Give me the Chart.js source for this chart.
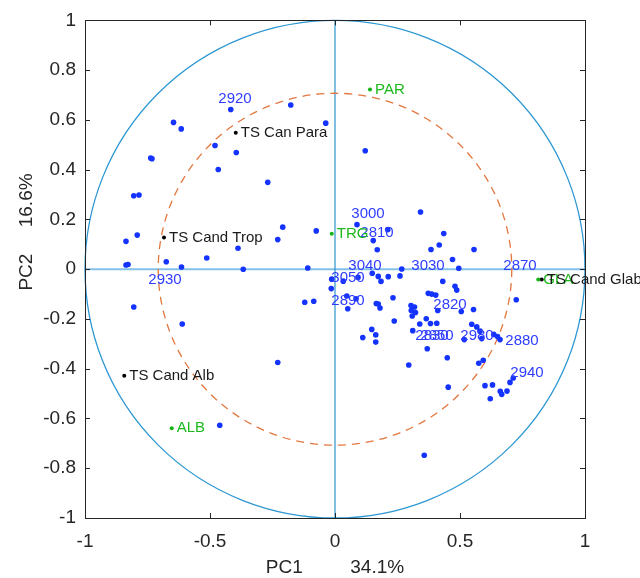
<!DOCTYPE html>
<html>
<head>
<meta charset="utf-8">
<script src="https://cdn.jsdelivr.net/npm/chart.js@4/dist/chart.umd.min.js"></script>
<style>
  html,body{margin:0;padding:0;background:#fff;}
  #wrap{width:640px;height:578px;}
</style>
</head>
<body>
<div id="wrap"><canvas id="pca" width="640" height="578"></canvas></div>
<script>
// ── PCA biplot: PC1 vs PC2 loadings ──

// wavenumber loadings (blue)
const loadX = [-0.417,-0.177,-0.646,-0.615,-0.480,-0.395,-0.037,-0.737,-0.732,-0.467,-0.269,-0.805,-0.784,-0.209,-0.075,
  -0.791,-0.836,-0.229,-0.388,-0.513,-0.675,-0.836,-0.828,-0.614,-0.367,-0.109,-0.805,-0.611,-0.121,-0.085,-0.229,-0.461,
  -0.013,-0.015,0.121,0.342,0.088,0.211,0.435,0.153,0.169,0.384,0.417,0.556,0.470,0.495,0.267,0.260,0.213,0.173,0.184,
  0.149,0.092,0.033,0.431,0.480,0.487,0.725,0.047,0.084,0.051,0.165,0.173,0.180,0.232,0.373,0.387,0.403,0.304,0.318,
  0.305,0.322,0.309,0.411,0.505,0.554,0.237,0.365,0.339,0.382,0.407,0.147,0.163,0.111,0.163,0.311,0.547,0.567,0.580,
  0.517,0.587,0.635,0.650,0.660,0.369,0.449,0.575,0.593,0.295,0.700,0.713,0.600,0.630,0.661,0.667,0.688,0.621,0.453,0.357];
const loadY = [0.642,0.660,0.590,0.564,0.497,0.469,0.587,0.447,0.444,0.401,0.349,0.295,0.298,0.169,0.154,
  0.137,0.112,0.119,0.084,0.045,0.030,0.017,0.019,0.009,0.000,0.005,-0.152,-0.220,-0.133,-0.129,-0.375,-0.627,
  -0.040,-0.078,0.476,0.230,0.179,0.159,0.143,0.115,0.078,0.079,0.097,0.079,0.039,0.004,0.001,-0.027,-0.030,-0.029,-0.049,
  -0.016,-0.033,-0.048,-0.049,-0.069,-0.084,-0.123,-0.108,-0.119,-0.159,-0.138,-0.140,-0.156,-0.115,-0.097,-0.100,-0.104,-0.146,-0.152,
  -0.166,-0.174,-0.188,-0.166,-0.170,-0.162,-0.208,-0.199,-0.220,-0.218,-0.217,-0.242,-0.264,-0.275,-0.293,-0.247,-0.221,-0.232,-0.249,
  -0.283,-0.279,-0.262,-0.271,-0.283,-0.320,-0.356,-0.378,-0.366,-0.385,-0.455,-0.437,-0.468,-0.465,-0.491,-0.503,-0.490,-0.521,-0.474,-0.748];

// wavenumber labels
const waveNames = ['2920','3000','2810','3040','3030','2870','3050','2930','2890','2820','2850','2830','2980','2880','2940'];
const waveX     = [-0.400,0.132,0.168,0.120,0.372,0.740,0.052,-0.680,0.052,0.460,0.408,0.388,0.568,0.748,0.768];
const waveY     = [0.683,0.224,0.148,0.012,0.012,0.012,-0.036,-0.044,-0.128,-0.144,-0.267,-0.267,-0.267,-0.287,-0.415];

// sample groups (green)
const groupNames = ['PAR','TRG','GLA','ALB'];
const groupX     = [0.140,-0.013,0.813,-0.653];
const groupY     = [0.722,0.142,-0.041,-0.639];

// reference standards (black)
const stdNames = ['TS Can Para','TS Cand Trop','TS Cand Alb','TS Cand Glab'];
const stdX     = [-0.397,-0.684,-0.843,0.827];
const stdY     = [0.548,0.127,-0.428,-0.041];

const xTicks = [-1,-0.5,0,0.5,1];
const yTicks = [-1,-0.8,-0.6,-0.4,-0.2,0,0.2,0.4,0.6,0.8,1];
const circleR = [1, 0.7071];
const xTitle = ['PC1','34.1%'];
const yTitle = ['PC2','16.6%'];

const FONT = '"Liberation Sans", Arial, sans-serif';
const pts = (xs, ys) => xs.map((v,i)=>({x:v, y:ys[i]}));

const overlay = {
  id:'overlay',
  beforeDatasetsDraw(chart) {
    const {ctx, chartArea:a, scales:{x,y}} = chart;
    const cx = x.getPixelForValue(0), cy = y.getPixelForValue(0);
    ctx.save();
    // zero lines
    ctx.strokeStyle='#84c1e8'; ctx.lineWidth=2;
    ctx.beginPath(); ctx.moveTo(a.left,cy); ctx.lineTo(a.right,cy); ctx.stroke();
    ctx.strokeStyle='#2a92d0'; ctx.lineWidth=1.2;
    ctx.beginPath(); ctx.moveTo(cx,a.top); ctx.lineTo(cx,a.bottom); ctx.stroke();
    // unit circle + equilibrium circle
    circleR.forEach((r,i) => {
      const rx = x.getPixelForValue(r)-cx, ry = cy-y.getPixelForValue(r);
      ctx.strokeStyle = i===0 ? '#2e98d2' : '#e2773f';
      ctx.lineWidth = 1.3;
      ctx.setLineDash(i===0 ? [] : [8,6]);
      ctx.beginPath(); ctx.ellipse(cx,cy,rx,ry,0,0,Math.PI*2); ctx.stroke();
    });
    ctx.restore();
  },
  afterDatasetsDraw(chart) {
    const {ctx, chartArea:a, scales:{x,y}} = chart;
    ctx.save();
    ctx.textBaseline='middle';
    ctx.font = '15px '+FONT;
    // wavenumber labels
    ctx.fillStyle='#2f3dff'; ctx.textAlign='center';
    waveNames.forEach((t,i)=>ctx.fillText(t, x.getPixelForValue(waveX[i]), y.getPixelForValue(waveY[i])));
    ctx.textAlign='left';
    ctx.fillStyle='#1cb81c';
    groupNames.forEach((t,i)=>ctx.fillText(t, x.getPixelForValue(groupX[i])+5, y.getPixelForValue(groupY[i])));
    ctx.fillStyle='#1a1a1a';
    stdNames.forEach((t,i)=>ctx.fillText(t, x.getPixelForValue(stdX[i])+5, y.getPixelForValue(stdY[i])));
    // box + inward ticks
    ctx.strokeStyle='#262626'; ctx.lineWidth=1;
    ctx.strokeRect(Math.round(a.left)+0.5, Math.round(a.top)+0.5, Math.round(a.right-a.left), Math.round(a.bottom-a.top));
    ctx.beginPath();
    xTicks.forEach(v=>{ const px=Math.round(x.getPixelForValue(v))+0.5;
      ctx.moveTo(px,a.bottom); ctx.lineTo(px,a.bottom-5); ctx.moveTo(px,a.top); ctx.lineTo(px,a.top+5); });
    yTicks.forEach(v=>{ const py=Math.round(y.getPixelForValue(v))+0.5;
      ctx.moveTo(a.left,py); ctx.lineTo(a.left+5,py); ctx.moveTo(a.right,py); ctx.lineTo(a.right-5,py); });
    ctx.stroke();
    // axis titles
    ctx.fillStyle='#262626'; ctx.font='19px '+FONT; ctx.textAlign='center';
    ctx.fillText(xTitle.join('         '), (a.left+a.right)/2, 568);
    ctx.translate(27, 232); ctx.rotate(-Math.PI/2);
    ctx.fillText(yTitle.join('     '), 0, 0);
    ctx.restore();
  }
};

new Chart(document.getElementById('pca'), {
  type:'scatter',
  data:{ datasets:[
    { data:pts(loadX,loadY), backgroundColor:'#1433ff', borderWidth:0, pointRadius:2.8 },
    { data:pts(groupX,groupY), backgroundColor:'#12b312', borderWidth:0, pointRadius:2 },
    { data:pts(stdX,stdY), backgroundColor:'#000', borderWidth:0, pointRadius:2 },
  ]},
  options:{
    responsive:false, animation:false, devicePixelRatio:1,
    layout:{padding:{left:25,right:55,top:17,bottom:0}},
    plugins:{legend:{display:false}, tooltip:{enabled:false}},
    scales:{
      x:{ min:-1, max:1,
        afterBuildTicks:s=>{ s.ticks = xTicks.map(v=>({value:v})); },
        afterFit:s=>{ s.height = 60; },
        grid:{display:false, drawTicks:false}, border:{display:false},
        ticks:{autoSkip:false, maxRotation:0, padding:12, color:'#262626', font:{family:FONT,size:19}, callback:v=>String(v)} },
      y:{ min:-1, max:1,
        afterBuildTicks:s=>{ s.ticks = yTicks.map(v=>({value:v})); },
        afterFit:s=>{ s.width = 60; },
        grid:{display:false, drawTicks:false}, border:{display:false},
        ticks:{autoSkip:false, padding:9, color:'#262626', font:{family:FONT,size:19}, callback:v=>String(v)} },
    },
  },
  plugins:[overlay],
});
</script>
</body>
</html>
